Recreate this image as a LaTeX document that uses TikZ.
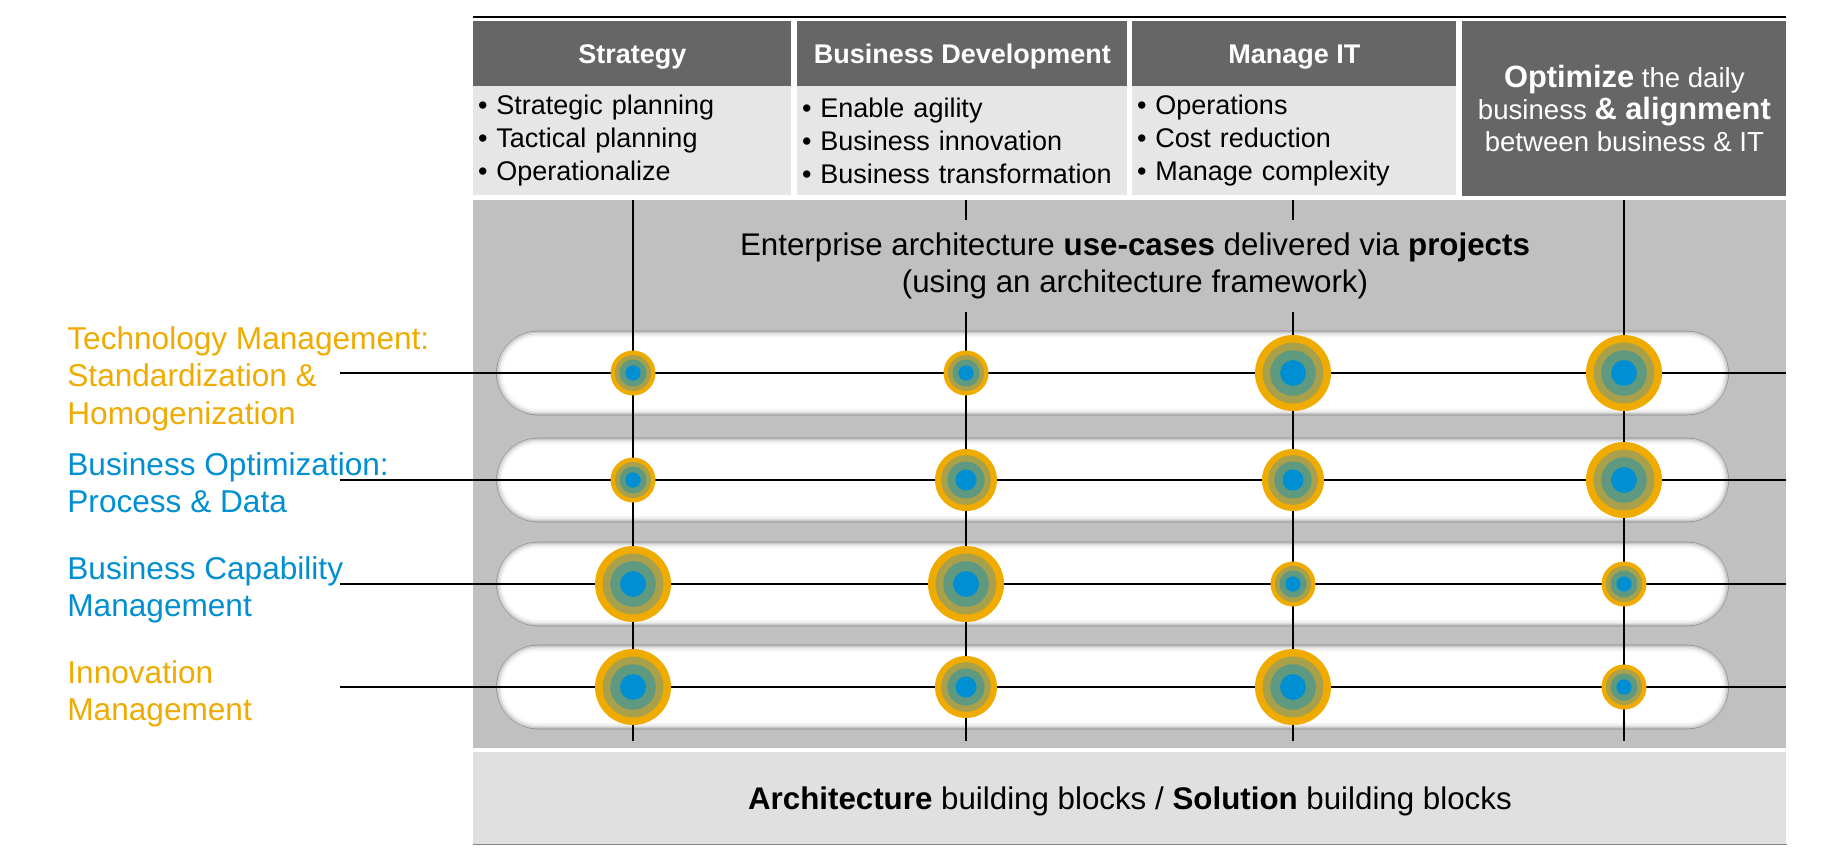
\documentclass[tikz,border=0pt]{standalone}
\usepackage{fontspec}
\setmainfont{Liberation Sans}
\usetikzlibrary{calc}

\definecolor{headgray}{HTML}{666666}
\definecolor{listgray}{HTML}{E6E6E6}
\definecolor{midgray}{HTML}{C0C0C0}
\definecolor{footgray}{HTML}{E0E0E0}
\definecolor{pilledge}{HTML}{858585}
\definecolor{sapgold}{HTML}{F0AB00}
\definecolor{sapblue}{HTML}{008FD3}
\definecolor{ringolive}{HTML}{A8A04A}
\definecolor{ringteal}{HTML}{5F9A80}

\begin{document}
\begin{tikzpicture}[x=0.5pt,y=-0.5pt,
  headbox/.style={fill=headgray,text=white,font=\fontsize{13.5}{16}\selectfont\bfseries,minimum height=33pt,inner sep=0pt,text depth=0pt,anchor=north west},
  listbox/.style={fill=listgray,font=\fontsize{13.5}{16.5}\selectfont,minimum height=54.5pt,inner xsep=2.3pt,inner ysep=0pt,align=left,anchor=north west},
  pill/.style={fill=white,draw=pilledge,line width=0.8pt,rounded corners=20.75pt,minimum width=615.5pt,minimum height=41.5pt,inner sep=0pt},
  rowline/.style={line width=0.9pt},
  colline/.style={line width=0.6pt},
  target/.style={circle,inner sep=0pt},
  lane/.style={anchor=west,align=left,font=\fontsize{15.8}{18.75}\selectfont,inner sep=0pt}]
\useasboundingbox (0,0) rectangle (1838,853);

% header and lists
\coordinate (topl) at (473,16.7);
\coordinate (topr) at (1786,16.7);
\draw[line width=0.8pt] (topl) -- (topr);
\node[headbox,minimum width=159pt] (hstrat) at (473,20.7) {Strategy};
\node[headbox,minimum width=165pt] (hbiz) at (797,20.7) {Business Development};
\node[headbox,minimum width=162pt] (hit) at (1132,20.7) {Manage IT};
\node[headbox,minimum width=162pt,minimum height=87.5pt,align=center,text depth=,font=\fontsize{13.8}{16}\selectfont] (optim) at (1462,20.7)
  {{\fontsize{15.4}{16}\selectfont\bfseries Optimize} the daily\\business {\fontsize{15.4}{16}\selectfont\bfseries \& alignment}\\between business \& IT};
\node[listbox,text width=154.4pt] (lstrat) at (473,85.7) {\textbullet\ Strategic planning\\\textbullet\ Tactical planning\\\textbullet\ Operationalize};
\node[listbox,text width=160.4pt] (lbiz) at (797,85.7) {\textbullet\ Enable agility\\\textbullet\ Business innovation\\\textbullet\ Business transformation};
\node[listbox,text width=157.4pt] (lit) at (1132,85.7) {\textbullet\ Operations\\\textbullet\ Cost reduction\\\textbullet\ Manage complexity};

% use-case zone
\node[fill=midgray,minimum width=656.5pt,minimum height=274pt,inner sep=0pt,anchor=north west] (zone) at (473,200) {};
\node[fill=footgray,minimum width=656.5pt,minimum height=46pt,inner sep=0pt,text depth=0pt,anchor=north west,font=\fontsize{15.65}{18}\selectfont] (foot) at (473,752)
  {\textbf{Architecture} building blocks / \textbf{Solution} building blocks};
\draw[pilledge,line width=0.6pt] (foot.south west) -- (foot.south east);

% lanes
\foreach \r/\y in {1/373,2/480,3/584,4/687}
{ \coordinate (rw\r) at (340,\y);
  \coordinate (re\r) at (1786,\y);
  \node[pill] (pill\r) at (1112.5,\y) {};
  \foreach \i/\s/\rad in {1.5/45/20,3/28/19.25,4.5/14/18.5,6/6/17.75}
    \draw[pilledge!\s,line width=0.8pt,rounded corners=\rad pt] ($(pill\r.south west)+(\i,-\i)$) rectangle ($(pill\r.north east)+(-\i,\i)$);
}
\foreach \c/\x in {1/633,2/966,3/1293,4/1624}
{ \coordinate (cn\c) at (\x,200);
  \coordinate (cs\c) at (\x,741);
  \draw[colline] (cn\c) -- (cs\c);
}
\foreach \r in {1,...,4}
  \draw[rowline] (rw\r) -- (re\r);

\node[fill=midgray,align=center,inner xsep=4pt,inner ysep=6.5pt,font=\fontsize{15.65}{18.5}\selectfont] (usecases) at (1135,266)
  {Enterprise architecture \textbf{use-cases} delivered via \textbf{projects}\\(using an architecture framework)};

% targets
\foreach \x/\y/\d/\n in {633/373/22.5/11,966/373/22.5/12,1293/373/38/13,1624/373/38/14,
  633/480/22.5/21,966/480/31/22,1293/480/31/23,1624/480/38/24,
  633/584/38/31,966/584/38/32,1293/584/22.5/33,1624/584/22.5/34,
  633/687/38/41,966/687/31/42,1293/687/38/43,1624/687/22.5/44}
{ \node[target,fill=sapgold,minimum size=\d*1pt] (t\n) at (\x,\y) {};
  \node[target,fill=ringolive,minimum size=\d*0.8pt] (t\n b) at (t\n) {};
  \node[target,fill=ringteal,minimum size=\d*0.6pt] (t\n c) at (t\n) {};
  \node[target,fill=sapblue,minimum size=\d*0.34pt] (t\n d) at (t\n) {};
}

% lane labels
\node[lane,text=sapgold] (ltech) at (67,378.7) {Technology Management:\\Standardization \&\\Homogenization};
\node[lane,text=sapblue] (lopt) at (67,482.5) {Business Optimization:\\Process \& Data};
\node[lane,text=sapblue] (lcap) at (67,589.7) {Business Capability\\Management};
\node[lane,text=sapgold] (linno) at (67,693.6) {Innovation\\Management};
\end{tikzpicture}
\end{document}
